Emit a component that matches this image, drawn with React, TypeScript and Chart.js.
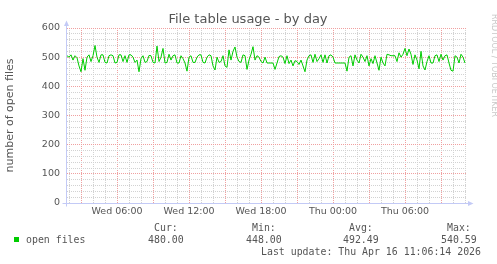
import React, { useEffect, useRef } from 'react';
import { Chart, registerables } from 'chart.js';

Chart.register(...registerables);

// ---- data ----
const TITLE = 'File table usage - by day';
const Y_TITLE = 'number of open files';
const SERIES_LABEL = 'open files';
const SERIES_COLOR = '#00CC00';

// sampling grid (hours since Wed 00:00)
const START_HOUR = 1 + 50 / 60; // Wed 01:50
const STEP_HOURS = 10 / 60; // 10-minute samples
const X_MIN = 1 + 50 / 60;
const X_MAX = 35 + 10 / 60; // Thu 11:10

const OPEN_FILES = [
  505, 500, 508, 490, 505, 498, 470, 450, 495, 455,
  500, 508, 485, 505, 540, 500, 482, 508, 508, 482,
  480, 505, 508, 505, 480, 482, 508, 508, 485, 505,
  482, 508, 508, 500, 482, 490, 450, 495, 505, 482,
  485, 506, 505, 482, 480, 538, 485, 500, 530, 480,
  482, 510, 490, 505, 508, 480, 480, 505, 495, 480,
  452, 500, 505, 482, 482, 500, 508, 508, 482, 480,
  500, 508, 505, 470, 456, 500, 482, 485, 505, 470,
  465, 525, 490, 520, 535, 500, 485, 482, 508, 505,
  458, 490, 510, 536, 490, 505, 500, 485, 480, 500,
  480, 480, 480, 480, 458, 480, 502, 505, 500, 478,
  505, 478, 490, 470, 488, 485, 475, 490, 470, 450,
  490, 505, 508, 482, 510, 485, 495, 508, 482, 508,
  480, 505, 508, 500, 480, 480, 480, 480, 480, 480,
  452, 500, 505, 470, 508, 490, 480, 510, 500, 485,
  505, 470, 495, 478, 505, 480, 455, 500, 480, 470,
  510, 508, 505, 505, 505, 485, 515, 500, 510, 530,
  505, 528, 510, 475, 508, 490, 460, 520, 470, 456,
  485, 505, 480, 480, 505, 508, 485, 510, 490, 505,
  508, 480, 455, 452, 505, 500, 480, 510, 500, 480,
];

const HOUR_TICKS = [
  2, 3, 4, 5, 6, 7, 8, 9, 10, 11, 12, 13, 14, 15, 16, 17, 18,
  19, 20, 21, 22, 23, 24, 25, 26, 27, 28, 29, 30, 31, 32, 33, 34, 35,
];
const LABEL_HOURS = [6, 12, 18, 24, 30];
const LABEL_TEXTS = ['Wed 06:00', 'Wed 12:00', 'Wed 18:00', 'Thu 00:00', 'Thu 06:00'];

const Y_MIN = 0;
const Y_MAX = 600;
const Y_STEP = 20;
const Y_LABEL_STEP = 100;

const STAT_NAMES = ['Cur:', 'Min:', 'Avg:', 'Max:'];
const STAT_VALUES = ['480.00', '448.00', '492.49', '540.59'];
const LAST_UPDATE = 'Last update: Thu Apr 16 11:06:14 2026';
const WATERMARK = 'RRDTOOL / TOBI OETIKER';

// ---- styles ----
const MINOR_GRID = '#D2D2D2';
const MAJOR_GRID = '#F0A0A0';
const AXIS_COLOR = '#C3CAF6';
const TEXT_COLOR = '#555555';
const SANS = '"DejaVu Sans", sans-serif';
const MONO = '"DejaVu Sans Mono", monospace';

const decorPlugin = {
  id: 'decor',
  beforeDatasetsDraw(chart: any) {
    const { ctx, chartArea } = chart;
    const xL = chartArea.left - 0.5;
    const yB = Math.round(chartArea.bottom) + 0.5;
    ctx.save();
    ctx.strokeStyle = AXIS_COLOR;
    ctx.fillStyle = AXIS_COLOR;
    ctx.lineWidth = 1;
    // y axis
    ctx.beginPath();
    ctx.moveTo(xL, yB + 3);
    ctx.lineTo(xL, chartArea.top - 4);
    ctx.stroke();
    ctx.beginPath();
    ctx.moveTo(xL - 2.5, chartArea.top - 2);
    ctx.lineTo(xL + 2.5, chartArea.top - 2);
    ctx.lineTo(xL, chartArea.top - 7.5);
    ctx.closePath();
    ctx.fill();
    // x axis
    ctx.beginPath();
    ctx.moveTo(xL - 4, yB);
    ctx.lineTo(chartArea.right + 3, yB);
    ctx.stroke();
    ctx.beginPath();
    ctx.moveTo(chartArea.right + 1, yB - 2.5);
    ctx.lineTo(chartArea.right + 1, yB + 2.5);
    ctx.lineTo(chartArea.right + 6.5, yB);
    ctx.closePath();
    ctx.fill();
    ctx.restore();
  },
  afterDraw(chart: any) {
    const { ctx } = chart;
    ctx.save();
    // title
    ctx.fillStyle = TEXT_COLOR;
    ctx.font = `13px ${SANS}`;
    ctx.textAlign = 'center';
    ctx.textBaseline = 'alphabetic';
    ctx.fillText(TITLE, 248, 22.8);

    // legend
    ctx.fillStyle = SERIES_COLOR;
    ctx.fillRect(14, 237, 5, 5);
    ctx.fillStyle = TEXT_COLOR;
    ctx.font = `9.9px ${MONO}`;
    ctx.textAlign = 'left';
    ctx.fillText(SERIES_LABEL, 26, 242.5);
    const valueX = [148, 246, 343, 441];
    STAT_NAMES.forEach((n, i) => {
      ctx.fillText(n, valueX[i] + 6, 231.3);
      ctx.fillText(STAT_VALUES[i], valueX[i], 242.5);
    });
    ctx.fillText(LAST_UPDATE, 261, 255);

    // watermark
    ctx.fillStyle = '#C8C8C8';
    ctx.font = `8px ${SANS}`;
    ctx.translate(494, 14);
    ctx.rotate(Math.PI / 2);
    ctx.textAlign = 'left';
    ctx.textBaseline = 'middle';
    ctx.fillText(WATERMARK, 0, 0);
    ctx.restore();
  },
};

export default function App() {
  const ref = useRef<HTMLCanvasElement | null>(null);

  useEffect(() => {
    const canvas = ref.current;
    if (!canvas) return;
    const points = OPEN_FILES.map((v, i) => ({ x: START_HOUR + i * STEP_HOURS, y: v }));
    const chart = new Chart(canvas, {
      type: 'line',
      data: {
        datasets: [
          {
            label: SERIES_LABEL,
            data: points,
            borderColor: SERIES_COLOR,
            borderWidth: 1,
            pointRadius: 0,
            tension: 0,
            fill: false,
          },
        ],
      },
      options: {
        responsive: false,
        animation: false,
        events: [],
        layout: { padding: { left: 0, top: 28, right: 30, bottom: 0 } },
        plugins: {
          legend: { display: false },
          title: { display: false },
          tooltip: { enabled: false },
        },
        scales: {
          x: {
            type: 'linear',
            min: X_MIN,
            max: X_MAX,
            afterBuildTicks: (scale: any) => {
              scale.ticks = HOUR_TICKS.map((h) => ({ value: h }));
            },
            afterFit: (scale: any) => {
              scale.height = 61;
            },
            grid: {
              drawTicks: false,
              lineWidth: 1,
              color: (c: any) => (c.tick && c.tick.value % 3 === 0 ? MAJOR_GRID : MINOR_GRID),
            },
            border: { display: false, dash: [1, 1] },
            ticks: {
              autoSkip: false,
              maxRotation: 0,
              minRotation: 0,
              padding: 3,
              color: TEXT_COLOR,
              font: { family: SANS, size: 9.5 },
              callback: (v: any) => {
                const k = LABEL_HOURS.indexOf(Number(v));
                return k >= 0 ? LABEL_TEXTS[k] : '';
              },
            },
          },
          y: {
            type: 'linear',
            min: Y_MIN,
            max: Y_MAX,
            afterFit: (scale: any) => {
              scale.width = 67;
            },
            grid: {
              drawTicks: false,
              lineWidth: 1,
              color: (c: any) => (c.tick && c.tick.value % Y_LABEL_STEP === 0 ? MAJOR_GRID : MINOR_GRID),
            },
            border: { display: false, dash: [1, 1] },
            title: {
              display: true,
              text: Y_TITLE,
              color: TEXT_COLOR,
              font: { family: SANS, size: 11 },
              padding: { top: 4, bottom: 0 },
            },
            ticks: {
              stepSize: Y_STEP,
              autoSkip: false,
              padding: 7,
              color: TEXT_COLOR,
              font: { family: SANS, size: 9.5 },
              callback: (v: any) => (Number(v) % Y_LABEL_STEP === 0 ? String(v) : ''),
            },
          },
        },
      },
      plugins: [decorPlugin],
    } as any);
    return () => chart.destroy();
  }, []);

  return (
    <div style={{ position: 'fixed', left: 0, top: 0, width: 497, height: 264, background: '#fff' }}>
      <canvas ref={ref} width={497} height={264} style={{ display: 'block' }} />
    </div>
  );
}
